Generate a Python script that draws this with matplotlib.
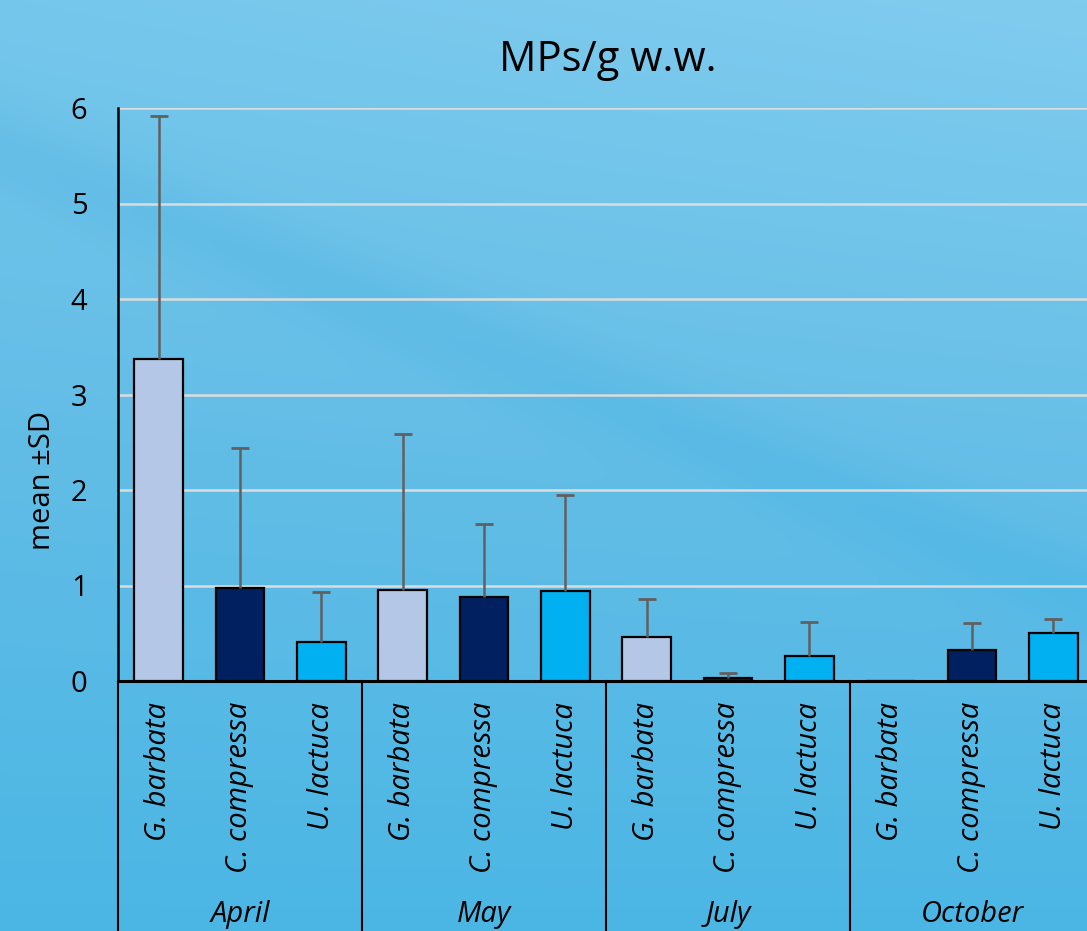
import matplotlib.pyplot as plt
import numpy as np
from matplotlib.colors import LinearSegmentedColormap

plt.rcParams['font.family'] = ['Open Sans', 'DejaVu Sans']

months = ["April", "May", "July", "October"]
species = ["G. barbata", "C. compressa", "U. lactuca"]
species_colors = ["#b4c7e7", "#002060", "#00b0f0"]

# mean MPs/g w.w. per month, in species order
means = {
    "April":   [3.37, 0.97, 0.41],
    "May":     [0.95, 0.88, 0.94],
    "July":    [0.46, 0.03, 0.26],
    "October": [0.00, 0.32, 0.50],
}
sds = {
    "April":   [2.55, 1.47, 0.52],
    "May":     [1.64, 0.76, 1.01],
    "July":    [0.40, 0.05, 0.36],
    "October": [0.00, 0.29, 0.15],
}

W, H = 1087, 931
fig = plt.figure(figsize=(W / 100, H / 100), dpi=100)

# blue backdrop
bg = fig.add_axes([0, 0, 1, 1], zorder=-10)
yy, xx = np.mgrid[0:1:400j, 0:1:400j]
shade = 0.12 + 0.5 * yy - 0.12 * xx * (1 - yy)
band = np.exp(-((yy - (0.16 + 0.48 * xx)) / 0.05) ** 2)
shade = shade + 0.12 * band
cmap = LinearSegmentedColormap.from_list("sea", ["#80ccef", "#62bde6", "#44b4e4"])
bg.imshow(shade, cmap=cmap, aspect="auto", extent=[0, 1, 0, 1], origin="upper",
          vmin=0, vmax=0.7)
bg.set_axis_off()

x0, x1 = 118 / W, 1094 / W
y0, y1 = 1 - 681 / H, 1 - 108 / H
ax = fig.add_axes([x0, y0, x1 - x0, y1 - y0])
ax.patch.set_alpha(0)

n = len(species)
for g, m in enumerate(months):
    xs = np.arange(n) + g * n
    vals = np.array(means[m])
    err = np.array(sds[m])
    ax.bar(xs, vals, width=0.6, color=species_colors, edgecolor="black",
           linewidth=1.6, zorder=3)
    # upper error bars only
    keep = err > 0
    ax.vlines(xs[keep], vals[keep], vals[keep] + err[keep], color="#606060",
              linewidth=1.8, zorder=4)
    ax.plot(xs[keep], vals[keep] + err[keep], ls="none", marker="_",
            markersize=13, mew=2, color="#606060", zorder=4)

ax.set_xlim(-0.5, len(months) * n - 0.5)
ax.set_ylim(0, 6)
ax.set_yticks(range(7))
ax.grid(axis="y", color="#dcdcdc", linewidth=1.8, zorder=1)
ax.tick_params(axis="y", length=0, pad=22, labelsize=21)

ax.set_xticks(np.arange(len(months) * n))
ax.set_xticklabels(species * len(months), rotation=90, style="italic", fontsize=21)
ax.tick_params(axis="x", length=0, pad=15)

for side in ["top", "right"]:
    ax.spines[side].set_visible(False)
ax.spines["left"].set_linewidth(1.8)
ax.spines["bottom"].set_linewidth(2.2)

# month group dividers and labels under the species labels
trans = ax.get_xaxis_transform()
for g in range(len(months) + 1):
    ax.plot([g * n - 0.5] * 2, [0, -0.5], transform=trans, color="black",
            linewidth=1.5, clip_on=False)
for g, m in enumerate(months):
    ax.text(g * n + 1, -0.408, m, transform=trans, ha="center", va="center",
            style="italic", fontsize=21)

fig.text(608 / W, 1 - 60 / H, "MPs/g w.w.", ha="center", va="center", fontsize=30)
fig.text(42 / W, 1 - 480 / H, "mean ±SD", rotation=90, ha="center", va="center",
         fontsize=21)

fig.savefig("out.png", dpi=100)
